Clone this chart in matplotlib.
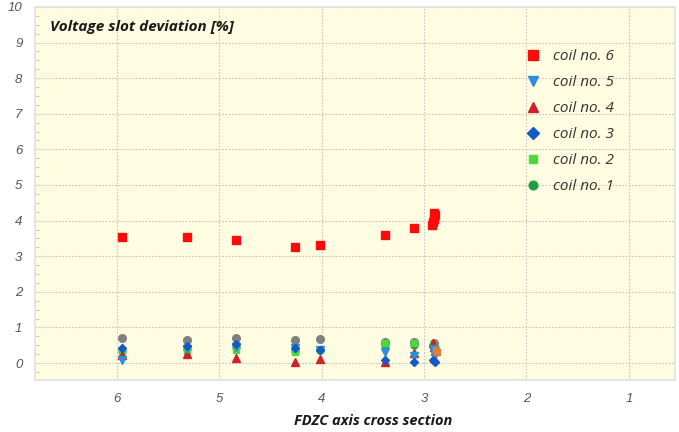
import matplotlib
matplotlib.use("Agg")
import matplotlib.pyplot as plt
from matplotlib.ticker import MultipleLocator

# ---- data ----
coil6_x = [5.95, 5.32, 4.84, 4.26, 4.02, 3.38, 3.10, 2.92, 2.91, 2.90, 2.89, 2.90]
coil6_y = [3.54, 3.54, 3.45, 3.26, 3.32, 3.60, 3.80, 3.88, 3.96, 4.05, 4.15, 4.20]

low_x = [5.95, 5.32, 4.84, 4.26, 4.02, 3.38, 3.10, 2.91, 2.90, 2.89]
coil5_y = [0.10, 0.40, 0.45, 0.42, 0.38, 0.30, 0.20, 0.40, 0.30, 0.22]
coil4_y = [0.22, 0.25, 0.14, 0.03, 0.11, 0.03, 0.28, 0.55, 0.45, 0.35]
coil3_y = [0.42, 0.48, 0.53, 0.42, 0.37, 0.10, 0.03, 0.10, 0.06, 0.04]
coil2_y = [0.30, 0.34, 0.37, 0.31, 0.37, 0.55, 0.55, 0.50, 0.45, 0.40]
coil1_y = [0.35, 0.40, 0.45, 0.35, 0.38, 0.50, 0.50, 0.52, 0.47, 0.42]

gray_x = [5.95, 5.32, 4.84, 4.26, 4.02, 3.38, 3.10, 2.90]
gray_y = [0.70, 0.65, 0.70, 0.65, 0.67, 0.60, 0.58, 0.55]
orange_x = [2.87, 2.88]
orange_y = [0.30, 0.36]

x_ticks = [6, 5, 4, 3, 2, 1]
y_ticks = list(range(0, 11))

# ---- figure ----
fig = plt.figure(figsize=(6.79, 4.32), dpi=100)
ax = fig.add_axes([0.0515, 0.120, 0.9425, 0.864])
ax.set_facecolor("#FEFDE1")

ax.plot(gray_x, gray_y, "o", color="#7F7F7F", ms=5.5, ls="none", zorder=3)
h1, = ax.plot(low_x, coil1_y, "o", color="#1E9E48", ms=5, ls="none", zorder=4, label="coil no. 1")
h2, = ax.plot(low_x, coil2_y, "s", color="#4FD83A", ms=5, ls="none", zorder=4, label="coil no. 2")
h4, = ax.plot(low_x, coil4_y, "^", color="#D0202A", ms=5.5, ls="none", zorder=5, label="coil no. 4")
h5, = ax.plot(low_x, coil5_y, "v", color="#2E8FD6", ms=5.5, ls="none", zorder=5, label="coil no. 5")
h3, = ax.plot(low_x, coil3_y, "D", color="#1558C8", ms=4.5, ls="none", zorder=6, label="coil no. 3")
ax.plot(orange_x, orange_y, "s", color="#D98040", ms=4.5, ls="none", zorder=6)
h6, = ax.plot(coil6_x, coil6_y, "s", color="#FF0A0A", ms=5.5, ls="none", zorder=5, label="coil no. 6")

ax.set_xlim(6.8, 0.55)
ax.set_ylim(-0.48, 10)
ax.set_xticks(x_ticks)
ax.set_yticks(y_ticks)
ax.yaxis.set_minor_locator(MultipleLocator(0.25))
ax.tick_params(axis="both", which="major", length=0, pad=9, labelsize=9.5, labelcolor="#555555")
ax.tick_params(axis="y", which="minor", direction="in", length=3, color="#C8C8C8", width=0.8)
for lab in ax.get_xticklabels() + ax.get_yticklabels():
    lab.set_fontstyle("italic")
    lab.set_family("Liberation Sans")

ax.grid(True, which="major", linestyle=(0, (1.5, 1.5)), color="#C4C4C4", linewidth=0.8, zorder=0)
ax.set_axisbelow(True)
for sp in ax.spines.values():
    sp.set_color("#E2E2E2")
    sp.set_linewidth(1.2)

ax.text(0.023, 0.945, "Voltage slot deviation [%]", transform=ax.transAxes,
        fontsize=11, fontweight="bold", fontstyle="italic", family="Open Sans",
        color="#1A1A1A", va="center", ha="left")

fig.text(373 / 679, 1 - 421 / 432, "FDZC axis cross section", ha="center", va="center",
         fontsize=10.5, fontweight="bold", fontstyle="italic", family="Open Sans", color="#1A1A1A")

leg = ax.legend(handles=[h6, h5, h4, h3, h2, h1], loc="upper left",
                bbox_to_anchor=(0.745, 0.924), frameon=False, labelspacing=0.72,
                handlelength=1.0, handletextpad=0.8, markerscale=1.25,
                prop={"family": "Open Sans", "style": "italic", "size": 11})
for t in leg.get_texts():
    t.set_color("#333333")

fig.savefig("out.png", dpi=100, facecolor="white")
